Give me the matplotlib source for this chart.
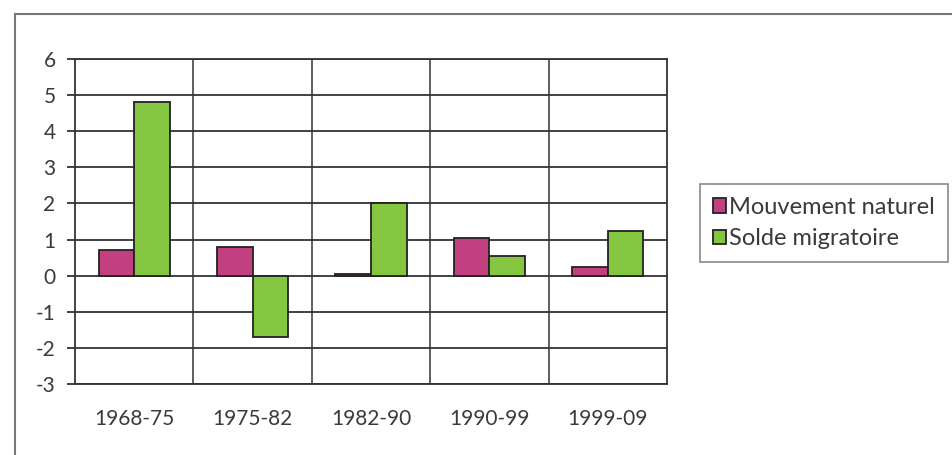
import numpy as np
import matplotlib
matplotlib.use("Agg")
import matplotlib.pyplot as plt
from matplotlib.lines import Line2D

# Données
periodes = ["1968-75", "1975-82", "1982-90", "1990-99", "1999-09"]
mouvement_naturel = [0.7, 0.8, 0.05, 1.05, 0.25]
solde_migratoire = [4.8, -1.7, 2.0, 0.55, 1.25]

couleur_naturel = "#C2407F"
couleur_migratoire = "#84C63F"
gris_texte = "#3a3a3a"

plt.rcParams['font.family'] = ['Lato', 'DejaVu Sans']
plt.rcParams['axes.unicode_minus'] = False

fig = plt.figure(figsize=(9.53, 4.55), dpi=100)
ax = fig.add_axes([75 / 953, 71 / 455, 592 / 953, 325 / 455])

x = np.arange(len(periodes))
largeur = 0.3
ax.bar(x - largeur / 2, mouvement_naturel, largeur, color=couleur_naturel,
       edgecolor="#222222", linewidth=1.3, label="Mouvement naturel", zorder=3)
ax.bar(x + largeur / 2, solde_migratoire, largeur, color=couleur_migratoire,
       edgecolor="#222222", linewidth=1.3, label="Solde migratoire", zorder=3)

ax.set_xlim(-0.5, len(periodes) - 0.5)
ax.set_ylim(-3, 6)
ax.set_yticks(range(-3, 7))
ax.set_xticks(x)
ax.set_xticklabels(periodes)

# grille : lignes horizontales et séparations verticales entre catégories
ax.grid(axis="y", color="#333333", linewidth=1.3, zorder=0)
for sep in np.arange(0.5, len(periodes) - 0.5, 1):
    ax.axvline(sep, color="#333333", linewidth=1.1, zorder=0)
for s in ax.spines.values():
    s.set_color("#333333")
    s.set_linewidth(1.3)

ax.tick_params(axis="y", length=6, width=1.3, color="#333333", pad=8,
               labelsize=15, labelcolor=gris_texte)
ax.tick_params(axis="x", length=0, pad=18, labelsize=15, labelcolor=gris_texte)

leg = ax.legend(loc="center left", bbox_to_anchor=(1.055, 0.495), fontsize=17,
                frameon=True, fancybox=False, edgecolor="#777777",
                handlelength=0.55, handleheight=0.55, handletextpad=0.15,
                borderpad=0.55, labelspacing=0.45, borderaxespad=0)
leg.get_frame().set_linewidth(1.3)
for t in leg.get_texts():
    t.set_color(gris_texte)

# cadre extérieur (haut et gauche)
fig.add_artist(Line2D([15 / 953, 15 / 953], [0, 1 - 14 / 455], color="#777777",
                      linewidth=1.5, transform=fig.transFigure))
fig.add_artist(Line2D([15 / 953, 1], [1 - 14 / 455, 1 - 14 / 455], color="#777777",
                      linewidth=1.5, transform=fig.transFigure))

fig.savefig("out.png", dpi=100, facecolor="white")
